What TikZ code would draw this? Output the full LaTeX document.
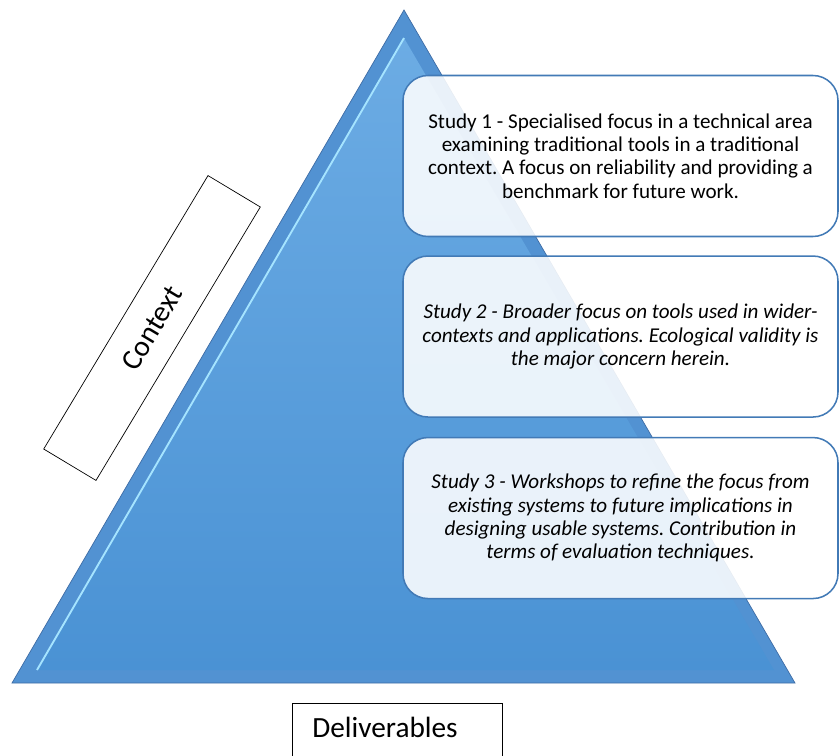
\documentclass[tikz,border=0pt]{standalone}
\usepackage{fontspec}
\setmainfont{Carlito}
\frenchspacing
\usetikzlibrary{positioning,calc}
\definecolor{pyrtop}{RGB}{108,172,228}
\definecolor{pyrbot}{RGB}{74,146,212}
\definecolor{pyrbevel}{RGB}{82,146,210}
\definecolor{pyredge}{RGB}{62,108,165}
\definecolor{pyrglow}{RGB}{165,228,255}
\definecolor{boxline}{RGB}{66,122,182}
\tikzset{
  studybox/.style={draw=boxline, line width=1.3pt, fill=white, fill opacity=0.88,
    text opacity=1, rounded corners=0.75cm, minimum width=435*0.03cm,
    minimum height=161*0.03cm, align=center, font=\fontsize{18}{19.8}\selectfont},
  labelbox/.style={draw=black, line width=0.6pt, fill=white,
    font=\fontsize{25}{29}\selectfont}
}
\begin{document}
\begin{tikzpicture}[x=0.03cm,y=-0.03cm]
  \useasboundingbox (0,0) rectangle (839,756);

  \coordinate (apex) at (404,10);
  \coordinate (bl) at (12,683);
  \coordinate (br) at (795,683);
  \coordinate (iapex) at (404,38);
  \coordinate (ibl) at (37,670);
  \coordinate (ibr) at (774,670);

  \fill[pyrbevel] (apex) -- (br) -- (bl) -- cycle;
  \shade[top color=pyrtop, bottom color=pyrbot] (iapex) -- (ibr) -- (ibl) -- cycle;
  \draw[pyrglow, line width=1.6pt] (ibl) -- (iapex);
  \draw[pyredge, line width=0.6pt] (bl) -- (apex) -- (br) -- cycle;

  \node[studybox] (study1) at (620.5,156)
    {Study 1 - Specialised focus in a technical area\\
     examining traditional tools in a traditional\\
     context. A focus on reliability and providing a\\
     benchmark for future work.};
  \node[studybox, below=18*0.03cm of study1] (study2)
    {\itshape Study 2 - Broader focus on tools used in wider-\\
     \itshape contexts and applications. Ecological validity is\\
     \itshape the major concern herein.};
  \node[studybox, below=19*0.03cm of study2] (study3)
    {\itshape Study 3 - Workshops to refine the focus from\\
     \itshape existing systems to future implications in\\
     \itshape designing usable systems. Contribution in\\
     \itshape terms of evaluation techniques.};

  \node[labelbox, rotate=59, minimum width=319*0.03cm, minimum height=61*0.03cm]
    (context) at (152,328) {Context};
  \node[labelbox, anchor=north west, text width=170*0.03cm, align=left,
    inner xsep=20*0.03cm, inner ysep=14*0.03cm, text depth=1.6cm]
    (deliv) at (292,703) {Deliverables};
\end{tikzpicture}
\end{document}
